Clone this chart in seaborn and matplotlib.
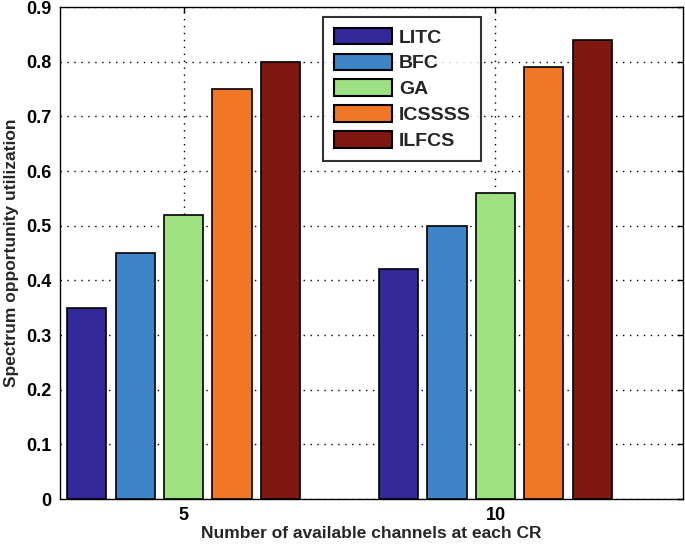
import matplotlib
matplotlib.use("Agg")
import matplotlib.pyplot as plt
import seaborn as sns
import pandas as pd

# Data
channels = ["5", "10"]
methods = ["LITC", "BFC", "GA", "ICSSSS", "ILFCS"]
litc = [0.35, 0.42]
bfc = [0.45, 0.50]
ga = [0.52, 0.56]
icssss = [0.75, 0.79]
ilfcs = [0.80, 0.84]
colors = ["#33289a", "#3d85c6", "#9de183", "#f07824", "#7e1811"]

rows = []
for name, vals in zip(methods, [litc, bfc, ga, icssss, ilfcs]):
    for ch, v in zip(channels, vals):
        rows.append({"channels": ch, "method": name, "value": v})
df = pd.DataFrame(rows)

sns.set_style("white")
plt.rcParams['font.family'] = ['Liberation Sans', 'DejaVu Sans']
plt.rcParams['font.weight'] = 'bold'

fig = plt.figure(figsize=(6.85, 5.48), dpi=100)
ax = fig.add_axes([0.0876, 0.0894, 0.9094, 0.8978])

sns.barplot(data=df, x="channels", y="value", hue="method", order=channels,
            hue_order=methods, palette=colors, width=0.776, gap=0.19,
            edgecolor="black", linewidth=1.2, saturation=1, ax=ax, zorder=3)

ax.set_xlim(-0.396, 1.601)
ax.set_ylim(0, 0.9)
ax.set_yticks([i / 10 for i in range(10)])
ax.set_yticklabels(["0"] + [f"{i/10:.1f}" for i in range(1, 10)])
ax.grid(True, linestyle=(0, (1, 4)), color="black", linewidth=1.0, zorder=0)
ax.set_axisbelow(True)

for s in ax.spines.values():
    s.set_color("black")
    s.set_linewidth(1.0)
ax.tick_params(direction="in", length=4, width=1, top=True, right=True,
               labelsize=13, pad=6, colors="black")
for lab in ax.get_xticklabels() + ax.get_yticklabels():
    lab.set_fontweight("bold")

ax.set_xlabel("Number of available channels at each CR", fontsize=12.5,
              fontweight="bold", labelpad=1)
ax.set_ylabel("Spectrum opportunity utilization", fontsize=12.5,
              fontweight="bold", labelpad=5)

leg = ax.legend(loc="upper left", bbox_to_anchor=(0.422, 0.98), frameon=True,
                fancybox=False, edgecolor="black", fontsize=14,
                handlelength=3.0, handleheight=0.93, labelspacing=0.36,
                handletextpad=0.36, borderpad=0.55, borderaxespad=0)
leg.get_frame().set_linewidth(1.5)
for t in leg.get_texts():
    t.set_fontweight("bold")
for h in leg.get_patches():
    h.set_edgecolor("black")
    h.set_linewidth(1.5)

fig.savefig("out.png", dpi=100)
